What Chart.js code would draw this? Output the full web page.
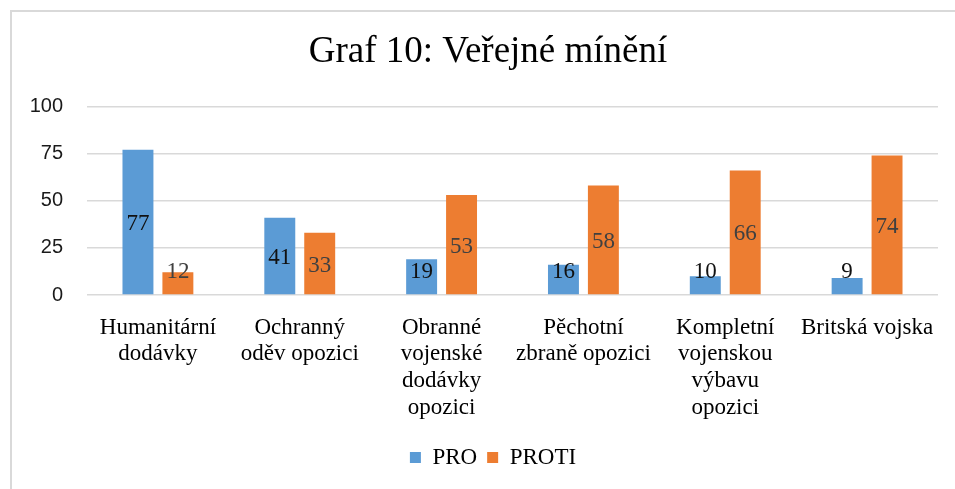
<!DOCTYPE html>
<html>
<head>
<meta charset="utf-8">
<script src="https://cdn.jsdelivr.net/npm/chart.js@4/dist/chart.umd.min.js"></script>
<style>
  html, body { margin: 0; padding: 0; background: #fff; }
  #wrap { position: relative; width: 955px; height: 489px; overflow: hidden; }
  #frame { position: absolute; left: 10px; top: 10px; width: 1000px; height: 600px; border-left: 2px solid #d9d9d9; border-top: 2px solid #d9d9d9; pointer-events: none; }
  canvas { position: absolute; left: 0; top: 0; }
</style>
</head>
<body>
<div id="wrap">
  <canvas id="c" width="955" height="489"></canvas>
  <div id="frame"></div>
</div>
<script>
const titleText = 'Graf 10: Veřejné mínění';
const categories = [
  ['Humanitární', 'dodávky'],
  ['Ochranný', 'oděv opozici'],
  ['Obranné', 'vojenské', 'dodávky', 'opozici'],
  ['Pěchotní', 'zbraně opozici'],
  ['Kompletní', 'vojenskou', 'výbavu', 'opozici'],
  ['Britská vojska']
];
const proValues = [77, 41, 19, 16, 10, 9];
const protiValues = [12, 33, 53, 58, 66, 74];
const yTicks = [0, 25, 50, 75, 100];

const serif = "'Liberation Serif', 'Times New Roman', serif";
const sans = "'Liberation Sans', Arial, sans-serif";

const barLabels = {
  id: 'barLabels',
  afterDatasetsDraw(chart) {
    const ctx = chart.ctx;
    ctx.save();
    ctx.font = '23px ' + serif;
    ctx.textAlign = 'center';
    ctx.textBaseline = 'middle';
    chart.data.datasets.forEach((ds, di) => {
      const meta = chart.getDatasetMeta(di);
      ctx.fillStyle = di === 0 ? '#111111' : '#404040';
      meta.data.forEach((bar, i) => {
        const center = (bar.y + bar.base) / 2;
        const y = Math.min(center, bar.base - 24);
        ctx.fillText(String(ds.data[i]), bar.x, y + 2);
      });
    });
    ctx.restore();
  }
};

// center title and legend over the framed area rather than the plot side
const shiftBlocks = {
  id: 'shiftBlocks',
  afterLayout(chart) {
    if (chart.titleBlock) { chart.titleBlock.left = 21; chart.titleBlock.right = 955; }
    if (chart.legend) { chart.legend.left = 31; chart.legend.right = 955; }
  }
};

new Chart(document.getElementById('c'), {
  type: 'bar',
  data: {
    labels: categories,
    datasets: [
      { label: 'PRO', data: proValues, backgroundColor: '#5B9BD5', categoryPercentage: 0.563, barPercentage: 0.775 },
      { label: 'PROTI', data: protiValues, backgroundColor: '#ED7D31', categoryPercentage: 0.563, barPercentage: 0.775 }
    ]
  },
  options: {
    responsive: false,
    animation: false,
    layout: { padding: { left: 0, right: 17, top: 0, bottom: 10 } },
    plugins: {
      title: {
        display: true,
        text: titleText,
        color: '#000',
        font: { family: serif, size: 37, weight: 'normal', lineHeight: 1.2 },
        padding: { top: 30, bottom: 32 }
      },
      legend: {
        position: 'bottom',
        labels: {
          color: '#000',
          font: { family: serif, size: 23 },
          boxWidth: 11,
          boxHeight: 11,
          padding: 10
        }
      },
      tooltip: { enabled: false }
    },
    scales: {
      x: {
        grid: { display: false, drawTicks: false },
        border: { display: false },
        ticks: {
          color: '#000',
          font: { family: serif, size: 23, lineHeight: 1.17 },
          maxRotation: 0,
          autoSkip: false,
          padding: 19
        },
        afterFit(scale) { scale.height = 141; }
      },
      y: {
        min: 0,
        max: 100,
        afterBuildTicks(scale) { scale.ticks = yTicks.map(v => ({ value: v })); },
        grid: { color: '#d9d9d9', lineWidth: 1.5, drawTicks: false },
        border: { display: false },
        ticks: {
          color: '#1a1a1a',
          font: { family: sans, size: 20 },
          padding: 24
        },
        afterFit(scale) { scale.width = 87; }
      }
    }
  },
  plugins: [barLabels, shiftBlocks]
});
</script>
</body>
</html>
